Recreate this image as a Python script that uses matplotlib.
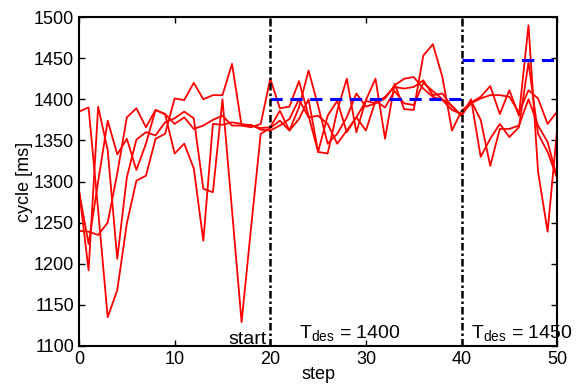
import numpy as np
import matplotlib
matplotlib.use('Agg')
from matplotlib import pyplot as plt

plt.rcParams['font.family'] = ['Liberation Sans', 'DejaVu Sans']
plt.rcParams['mathtext.fontset'] = 'custom'
plt.rcParams['mathtext.rm'] = 'Liberation Sans'

steps = np.arange(51)

run1 = [1385, 1390, 1265, 1135, 1168, 1249, 1301, 1307, 1352, 1358,
        1401, 1399, 1420, 1400, 1405, 1405, 1443, 1368, 1366, 1370,
        1425, 1389, 1391, 1422, 1380, 1336, 1334, 1386, 1425, 1360,
        1399, 1425, 1352, 1419, 1388, 1387, 1453, 1467, 1427, 1362,
        1386, 1396, 1403, 1416, 1382, 1411, 1380, 1490, 1312, 1239, 1364]
run2 = [1290, 1192, 1391, 1338, 1206, 1305, 1351, 1360, 1356, 1372,
        1377, 1385, 1377, 1291, 1287, 1400, 1265, 1129, 1245, 1358,
        1365, 1374, 1362, 1390, 1435, 1392, 1346, 1358, 1378, 1407,
        1391, 1395, 1401, 1417, 1425, 1427, 1413, 1403, 1399, 1387,
        1382, 1395, 1401, 1405, 1405, 1403, 1384, 1411, 1401, 1370, 1385]
run3 = [1288, 1224, 1300, 1374, 1333, 1352, 1314, 1346, 1387, 1382,
        1370, 1378, 1364, 1368, 1375, 1380, 1368, 1368, 1369, 1363,
        1362, 1368, 1376, 1400, 1378, 1380, 1370, 1346, 1362, 1378,
        1398, 1395, 1403, 1415, 1413, 1415, 1423, 1405, 1407, 1391,
        1380, 1400, 1330, 1352, 1370, 1354, 1366, 1445, 1358, 1336, 1304]
run4 = [1240, 1239, 1235, 1250, 1310, 1378, 1389, 1366, 1387, 1382,
        1334, 1346, 1316, 1228, 1370, 1369, 1372, 1370, 1368, 1365,
        1366, 1386, 1362, 1376, 1400, 1336, 1380, 1398, 1360, 1378,
        1362, 1398, 1390, 1410, 1395, 1393, 1420, 1410, 1400, 1392,
        1380, 1398, 1375, 1319, 1364, 1364, 1368, 1400, 1368, 1348, 1304]
runs = [run1, run2, run3, run4]

# desired cycle time segments
t_des_x = [[20, 40], [40, 50]]
t_des_y = [1400, 1448]
switch_steps = [20, 40]

fig = plt.figure(figsize=(5.81, 3.87), dpi=100)
ax = fig.add_axes([0.136, 0.106, 0.823, 0.850])

for r in runs:
    ax.plot(steps, r, color='red', linewidth=1.3)

for xs, yv in zip(t_des_x, t_des_y):
    ax.plot(xs, [yv, yv], color='blue', linestyle=(0, (4, 2.5)), linewidth=2.2)

for s in switch_steps:
    ax.plot([s, s], [1100, 1500], color='black', linestyle=(0, (3, 1.2, 1, 1.2)), linewidth=1.8)

ax.text(19.6, 1108, 'start', ha='right', va='center', fontsize=14)
ax.text(23.0, 1115, r'T$_{\rm des}$ = 1400', ha='left', va='center', fontsize=14)
ax.text(41.0, 1115, r'T$_{\rm des}$ = 1450', ha='left', va='center', fontsize=14, clip_on=False)

ax.set_xlim(0, 50)
ax.set_ylim(1100, 1500)
ax.set_xticks(np.arange(0, 51, 10))
ax.set_yticks(np.arange(1100, 1501, 50))
ax.tick_params(direction='in', top=True, right=True, labelsize=13, length=4, width=1)
ax.set_xlabel('step', fontsize=13, labelpad=-1)
ax.set_ylabel('cycle [ms]', fontsize=13, labelpad=1)
for sp in ax.spines.values():
    sp.set_linewidth(1.5)

fig.savefig('out.png', dpi=100)
